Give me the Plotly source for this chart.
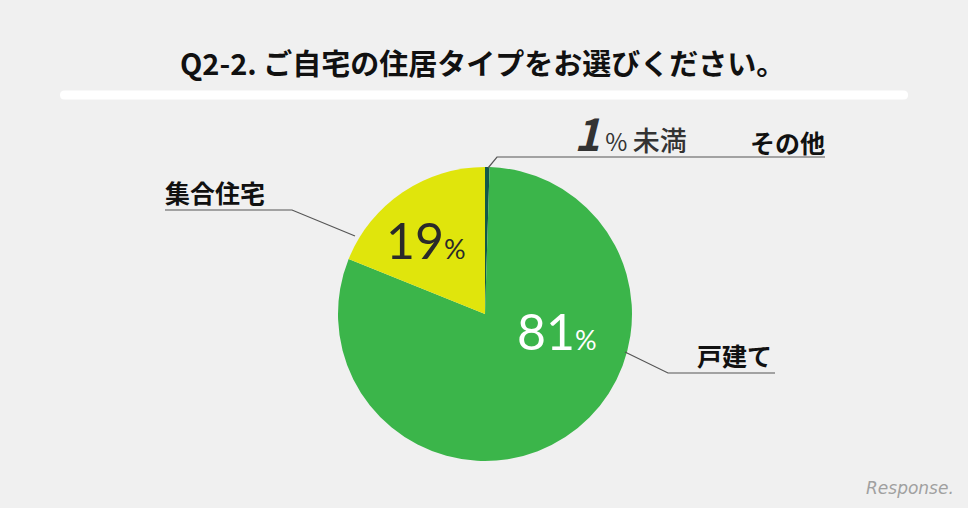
import plotly.graph_objects as go

categories = ["その他", "戸建て", "集合住宅"]
values = [0.5, 81, 19]
colors = ["#12584a", "#3bb54a", "#e0e50c"]
title_text = "Q2-2. ご自宅の住居タイプをお選びください。"

W, H = 968, 508
cx, cy, r = 485, 314, 147

def px(x):
    return x / W

def py(y):
    return 1 - y / H

fig = go.Figure()
fig.add_trace(go.Pie(
    labels=categories, values=values, sort=False, direction="clockwise",
    rotation=0, marker=dict(colors=colors, line=dict(width=0)),
    textinfo="none", hoverinfo="label+percent", showlegend=False,
    domain=dict(x=[px(cx - r), px(cx + r)], y=[py(cy + r), py(cy - r)]),
))

FONT = "Noto Sans CJK JP"
shapes = []
# white rounded divider bar under title
x0, x1, y0, y1, k = 60, 908, 90.5, 99.5, 4.5
bar = (f"M {px(x0 + k)},{py(y0)} L {px(x1 - k)},{py(y0)} "
       f"Q {px(x1)},{py(y0)} {px(x1)},{py((y0 + y1) / 2)} "
       f"Q {px(x1)},{py(y1)} {px(x1 - k)},{py(y1)} "
       f"L {px(x0 + k)},{py(y1)} "
       f"Q {px(x0)},{py(y1)} {px(x0)},{py((y0 + y1) / 2)} "
       f"Q {px(x0)},{py(y0)} {px(x0 + k)},{py(y0)} Z")
shapes.append(dict(type="path", xref="paper", yref="paper", path=bar,
                   fillcolor="white", line=dict(width=0)))

def leader(points):
    path = "M " + " L ".join(f"{px(x)},{py(y)}" for x, y in points)
    shapes.append(dict(type="path", xref="paper", yref="paper", path=path,
                       line=dict(color="#555555", width=1.2)))

leader([(488, 168), (497, 157), (825, 157)])
leader([(355, 236), (292, 210), (165, 210)])
leader([(625, 352), (668, 373), (775, 373)])

ann = []
ann.append(dict(x=px(482), y=py(62), xref="paper", yref="paper", text=f"<b>{title_text}</b>",
                showarrow=False, font=dict(family=FONT, size=29, color="#111111"),
                xanchor="center", yanchor="middle"))

def label(x, y, text, size=25, color="#111111", xanchor="left"):
    ann.append(dict(x=px(x), y=py(y), xref="paper", yref="paper", text=text,
                    showarrow=False, font=dict(family=FONT, size=size, color=color),
                    xanchor=xanchor, yanchor="middle"))

label(163, 192, f"<b>{categories[2]}</b>")
label(695, 355, f"<b>{categories[1]}</b>")
label(748, 142, f"<b>{categories[0]}</b>")

def pct(x, y, value, color, big=50, small=27):
    ann.append(dict(x=px(x), y=py(y), xref="paper", yref="paper",
                    text=f"<span style='font-size:{big}px'>{value}</span><span style='font-size:{small}px'>%</span>",
                    showarrow=False, font=dict(family="Lato", size=big, color=color),
                    xanchor="center", yanchor="middle"))

pct(426, 240, round(values[2]), "#2a2a2a")
pct(557, 331, round(values[1]), "#ffffff")

ann.append(dict(x=px(572), y=py(132), xref="paper", yref="paper",
                text="<i><span style='font-size:44px;font-weight:600'>1</span></i><span style='font-size:24px'> % </span><span style='font-size:27px;font-weight:500'>未満</span>",
                showarrow=False, font=dict(family=FONT, size=27, color="#333333"),
                xanchor="left", yanchor="middle"))

ann.append(dict(x=px(956), y=py(488), xref="paper", yref="paper", text="<i>Response.</i>",
                showarrow=False, font=dict(family="DejaVu Sans", size=17, color="#a0a0a0"),
                xanchor="right", yanchor="middle"))

fig.update_layout(width=W, height=H, margin=dict(l=0, r=0, t=0, b=0),
                  paper_bgcolor="#f0f0f0", plot_bgcolor="#f0f0f0",
                  shapes=shapes, annotations=ann)
fig.write_html("out.html", config={"displayModeBar": False},
               post_script="document.body.style.margin='0';document.body.style.background='#f0f0f0';")
